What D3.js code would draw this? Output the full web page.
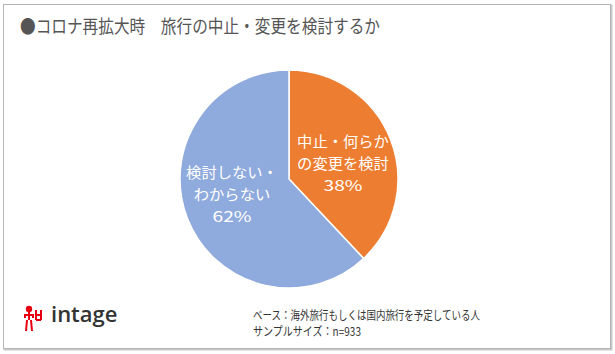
<!DOCTYPE html>
<html>
<head>
<meta charset="utf-8">
<script src="https://cdn.jsdelivr.net/npm/d3@7"></script>
<style>
  body { margin: 0; background: #fff; }
  text { font-family: "Noto Sans CJK JP", "Noto Sans", sans-serif; }
</style>
</head>
<body>
<div id="chart"></div>
<script>
// Chart data
const labels = [["中止・何らか", "の変更を検討"], ["検討しない・", "わからない"]];
const values = [38, 62];
const colors = ["#ED7D31", "#8FAADC"];

const width = 615;
const height = 354;

const svg = d3.select("#chart")
    .append("svg")
    .attr("width", width)
    .attr("height", height);

// Frame with slight shadow
svg.append("rect")
    .attr("x", 4.5).attr("y", 5.5)
    .attr("width", 607).attr("height", 344)
    .attr("fill", "none")
    .attr("stroke", "#c8c8c8")
    .attr("stroke-width", 2);
svg.append("rect")
    .attr("x", 3.5).attr("y", 4.5)
    .attr("width", 607).attr("height", 344)
    .attr("fill", "#fff")
    .attr("stroke", "#b5b5b5");

// Title (narrow font in original, so squeeze it)
svg.append("text")
    .attr("x", 20)
    .attr("y", 33)
    .attr("textLength", 360)
    .attr("lengthAdjust", "spacingAndGlyphs")
    .style("font-size", "18.5px")
    .attr("fill", "#555")
    .text("●コロナ再拡大時　旅行の中止・変更を検討するか");

// Pie
const cx = 289, cy = 179, r = 109;

const pie = d3.pie().sort(null).value(d => d);
const arcs = pie(values);

const arc = d3.arc().innerRadius(0).outerRadius(r);

const g = svg.append("g").attr("transform", `translate(${cx},${cy})`);

g.selectAll("path")
    .data(arcs)
    .enter().append("path")
    .attr("d", arc)
    .attr("fill", (d, i) => colors[i])
    .attr("stroke", "#fff")
    .attr("stroke-width", 1.5);

// Labels inside slices
const labelPos = [[54, -38], [-57, -7]];
const lbl = g.selectAll("g.lbl")
    .data(arcs)
    .enter().append("g")
    .attr("class", "lbl")
    .attr("transform", (d, i) => `translate(${labelPos[i][0]},${labelPos[i][1]})`);

lbl.each(function(d, i) {
    const lines = labels[i].map(t => ({ t: t, w: t.length * 15.3 }))
        .concat([{ t: values[i] + "%", w: 39 }]);
    d3.select(this).selectAll("text")
        .data(lines)
        .enter().append("text")
        .attr("text-anchor", "middle")
        .attr("y", (t, j) => j * 22 + 6)
        .attr("textLength", t => t.w)
        .attr("lengthAdjust", "spacingAndGlyphs")
        .attr("fill", "#fff")
        .style("font-size", "15px")
        .text(t => t.t);
});

// Footer note
const notes = ["ベース：海外旅行もしくは国内旅行を予定している人", "サンプルサイズ：n=933"];
const noteW = [227, 108];
svg.append("g")
    .selectAll("text")
    .data(notes)
    .enter().append("text")
    .attr("x", 253)
    .attr("y", (d, i) => 320 + i * 16)
    .attr("textLength", (d, i) => noteW[i])
    .attr("lengthAdjust", "spacingAndGlyphs")
    .attr("fill", "#333")
    .style("font-size", "12px")
    .text(d => d);

// Logo
const logo = svg.append("g").attr("transform", "translate(24,306)")
    .attr("stroke", "#e60012").attr("fill", "none").attr("stroke-width", 2);
logo.append("circle").attr("cx", 5).attr("cy", 3).attr("r", 2.2).attr("fill", "#e60012");
logo.append("path").attr("d", "M0,9 H10 M5,6 V14 M1,9 V12 M9,9 V12 M3,14 L2,25 M7,14 L8,25");
logo.append("path").attr("d", "M12,4 V14 M17,4 V14 M12,9 H17 M12,14 H17");
svg.append("text")
    .attr("x", 51).attr("y", 322)
    .attr("fill", "#333")
    .style("font-family", "'Open Sans', sans-serif")
    .style("font-weight", "600")
    .style("font-size", "22px")
    .text("intage");
</script>
</body>
</html>
